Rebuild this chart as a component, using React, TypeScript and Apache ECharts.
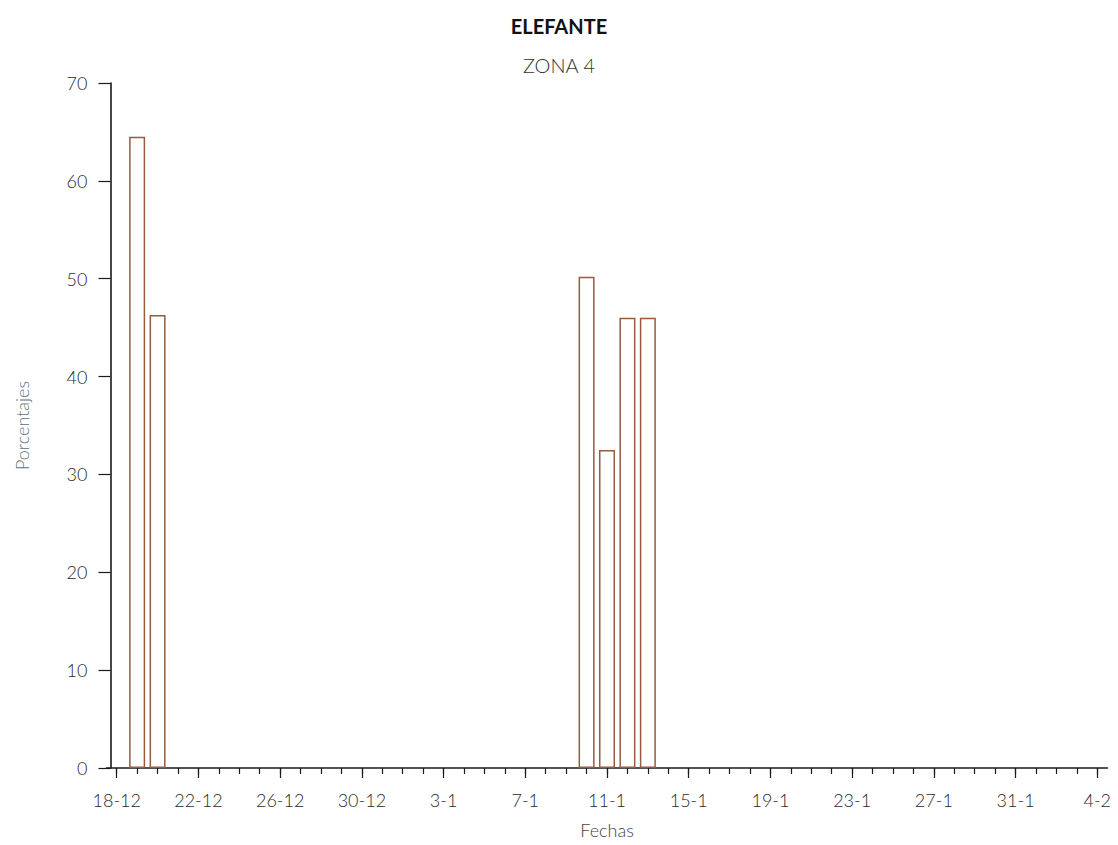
import React, { useEffect, useRef } from "react";
import * as echarts from "echarts";

const titleText = "ELEFANTE";
const subtitleText = "ZONA 4";
const xName = "Fechas";
const yName = "Porcentajes";

const fechas = [
  "18-12", "19-12", "20-12", "21-12", "22-12", "23-12", "24-12", "25-12", "26-12", "27-12",
  "28-12", "29-12", "30-12", "31-12",
  "1-1", "2-1", "3-1", "4-1", "5-1", "6-1", "7-1", "8-1", "9-1", "10-1",
  "11-1", "12-1", "13-1", "14-1", "15-1", "16-1", "17-1", "18-1", "19-1", "20-1",
  "21-1", "22-1", "23-1", "24-1", "25-1", "26-1", "27-1", "28-1", "29-1", "30-1", "31-1",
  "1-2", "2-2", "3-2", "4-2",
];

const porcentajes = [
  0, 64.5, 46.3, 0, 0, 0, 0, 0, 0, 0,
  0, 0, 0, 0,
  0, 0, 0, 0, 0, 0, 0, 0, 0, 50.2,
  32.5, 46, 46, 0, 0, 0, 0, 0, 0, 0,
  0, 0, 0, 0, 0, 0, 0, 0, 0, 0, 0,
  0, 0, 0, 0,
];

const yTicks = [0, 10, 20, 30, 40, 50, 60, 70];

const FONT = "Lato, 'Open Sans', sans-serif";

export default function App() {
  const ref = useRef<HTMLDivElement>(null);

  useEffect(() => {
    if (!ref.current) return;
    const chart = echarts.init(ref.current, undefined, { renderer: "svg" });
    const axisColor = "#1a1a1a";
    chart.setOption({
      animation: false,
      backgroundColor: "#ffffff",
      title: [
        {
          text: titleText,
          left: "center",
          top: 11,
          textStyle: { fontFamily: FONT, fontSize: 20, fontWeight: "bold", color: "#111" },
        },
        {
          text: subtitleText,
          left: "center",
          top: 50,
          textStyle: { fontFamily: FONT, fontSize: 20, fontWeight: 300, color: "#333" },
        },
      ],
      grid: { left: 106.5, right: 10.5, top: 83, bottom: 77, containLabel: false },
      xAxis: [
        {
          type: "category",
          data: fechas,
          boundaryGap: true,
          name: xName,
          nameLocation: "middle",
          nameGap: 53,
          nameTextStyle: { fontFamily: FONT, fontSize: 18, fontWeight: 300, color: "#444" },
          axisLine: { show: true, lineStyle: { color: axisColor, width: 1.6 } },
          axisTick: { show: true, interval: 0, alignWithLabel: true, length: 6, lineStyle: { color: axisColor, width: 1.2 } },
          axisLabel: {
            interval: 3,
            margin: 23,
            fontFamily: FONT,
            fontSize: 18,
            fontWeight: 300,
            color: "#2a2a2a",
            hideOverlap: false,
          },
          splitLine: { show: false },
        },
        {
          type: "category",
          data: fechas,
          boundaryGap: true,
          position: "bottom",
          axisLine: { show: false },
          axisTick: { show: true, interval: 3, alignWithLabel: true, length: 10, lineStyle: { color: axisColor, width: 1.2 } },
          axisLabel: { show: false },
          splitLine: { show: false },
        },
      ],
      yAxis: {
        type: "value",
        min: 0,
        max: 70,
        interval: 10,
        offset: -4,
        name: yName,
        nameLocation: "middle",
        nameGap: 80,
        nameTextStyle: { fontFamily: FONT, fontSize: 18, fontWeight: 300, color: "#5f7080" },
        axisLine: { show: true, lineStyle: { color: axisColor, width: 1.6 } },
        axisTick: { show: true, length: 12, lineStyle: { color: axisColor, width: 1.2 } },
        axisLabel: {
          margin: 23,
          fontFamily: FONT,
          fontSize: 18,
          fontWeight: 300,
          color: "#2a2a2a",
          formatter: (v: number) => (yTicks.includes(v) ? String(v) : ""),
        },
        splitLine: { show: false },
      },
      series: [
        {
          type: "bar",
          xAxisIndex: 0,
          data: porcentajes.map((v) => (v === 0 ? null : v)),
          barWidth: 16,
          itemStyle: { color: "#ffffff", borderColor: "#9a5a3e", borderWidth: 1.5 },
        },
      ],
    });
    return () => chart.dispose();
  }, []);

  return <div ref={ref} style={{ width: 1118, height: 845, position: "absolute", left: 0, top: 0 }} />;
}
